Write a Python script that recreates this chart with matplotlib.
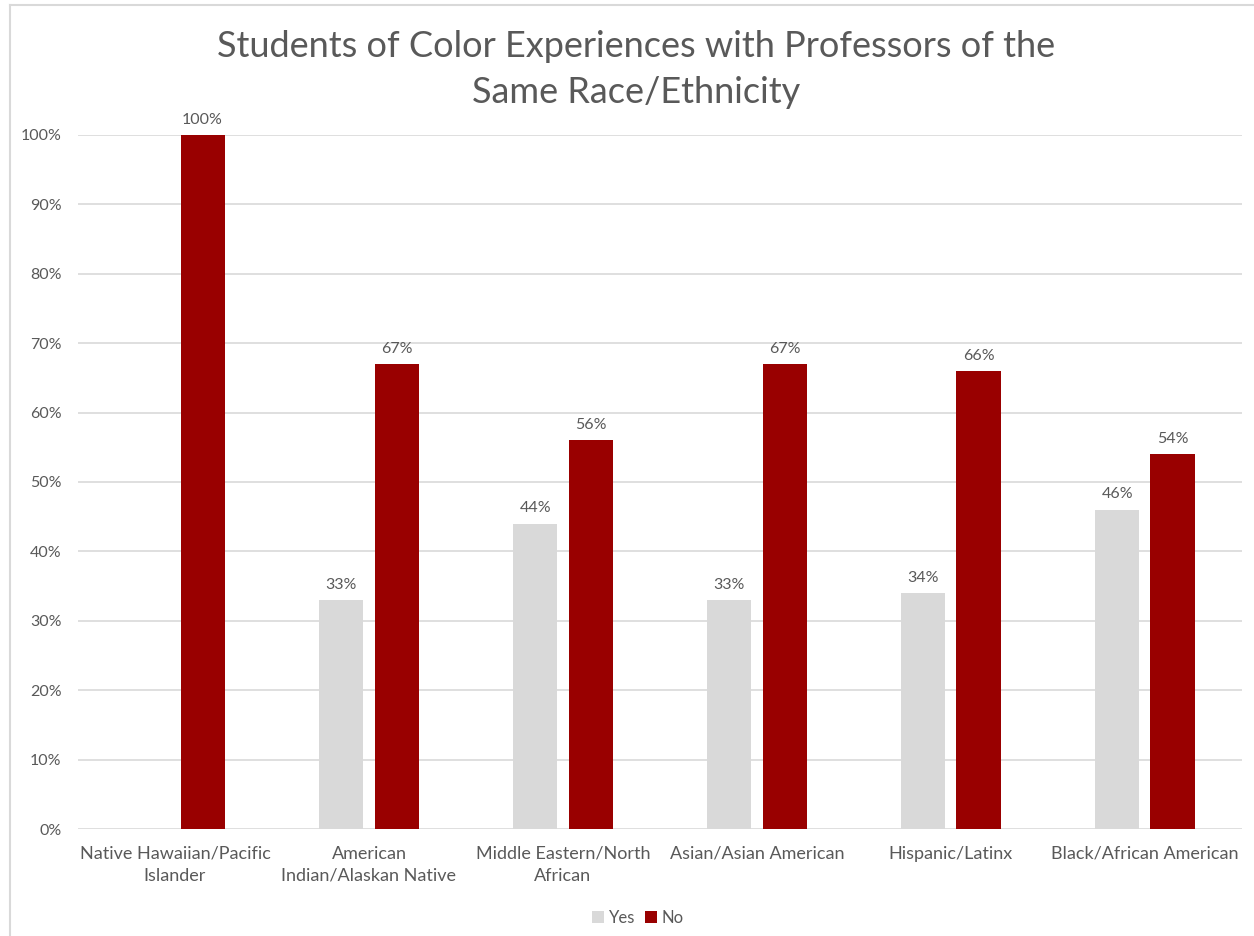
import numpy as np
import matplotlib
matplotlib.use("Agg")
import matplotlib.pyplot as plt
from matplotlib.lines import Line2D

categories = ["Native Hawaiian/Pacific\nIslander", "American\nIndian/Alaskan Native",
              "Middle Eastern/North\nAfrican", "Asian/Asian American",
              "Hispanic/Latinx", "Black/African American"]
yes_vals = [None, 33, 44, 33, 34, 46]
no_vals = [100, 67, 56, 67, 66, 54]

plt.rcParams['font.family'] = ['Lato', 'DejaVu Sans']
txt = '#595959'
c_yes = '#D9D9D9'
c_no = '#990000'

fig = plt.figure(figsize=(12.54, 9.36), dpi=100)
ax = fig.add_axes([0.0622, 0.1143, 0.9282, 0.7415])

x = np.arange(len(categories))
w = 0.227
off = 0.142
yv = [v if v is not None else 0 for v in yes_vals]
ax.bar(x - off, [v / 100 for v in yv], w, color=c_yes, label='Yes', zorder=3)
ax.bar(x + off, [v / 100 for v in no_vals], w, color=c_no, label='No', zorder=3)

for i in range(len(categories)):
    if yes_vals[i] is not None:
        ax.text(x[i] - off, yes_vals[i] / 100 + 0.012, f"{yes_vals[i]}%", ha='center',
                va='bottom', fontsize=11.5, color=txt)
    ax.text(x[i] + off, no_vals[i] / 100 + 0.012, f"{no_vals[i]}%", ha='center',
            va='bottom', fontsize=11.5, color=txt)

ax.set_xlim(-0.5, len(categories) - 0.5)
ax.set_ylim(0, 1.0)
ax.set_yticks(np.arange(0, 1.01, 0.1))
ax.set_yticklabels([f"{int(round(t * 100))}%" for t in np.arange(0, 1.01, 0.1)])
ax.set_xticks(x)
ax.set_xticklabels(categories, fontsize=13, linespacing=1.45)
ax.tick_params(axis='both', length=0, colors=txt)
ax.tick_params(axis='y', pad=12, labelsize=11.5)
ax.tick_params(axis='x', pad=12)
for s in ax.spines.values():
    s.set_visible(False)
ax.grid(axis='y', color='#D9D9D9', linewidth=1.2, zorder=0)
ax.set_axisbelow(True)

fig.text(0.507, 0.968, "Students of Color Experiences with Professors of the\nSame Race/Ethnicity",
         ha='center', va='top', fontsize=26, color=txt, linespacing=1.5)

ax.legend(loc='center', bbox_to_anchor=(0.481, -0.128), ncol=2, frameon=False,
          fontsize=12, labelcolor=txt, handlelength=0.7, handleheight=0.7,
          handletextpad=0.3, columnspacing=0.6)

fig.add_artist(Line2D([10 / 1254, 10 / 1254], [0, 1 - 5 / 936], color='#D9D9D9', lw=1.5))
fig.add_artist(Line2D([10 / 1254, 1], [1 - 5 / 936, 1 - 5 / 936], color='#D9D9D9', lw=1.5))

fig.savefig("out.png", dpi=100, facecolor='white')
